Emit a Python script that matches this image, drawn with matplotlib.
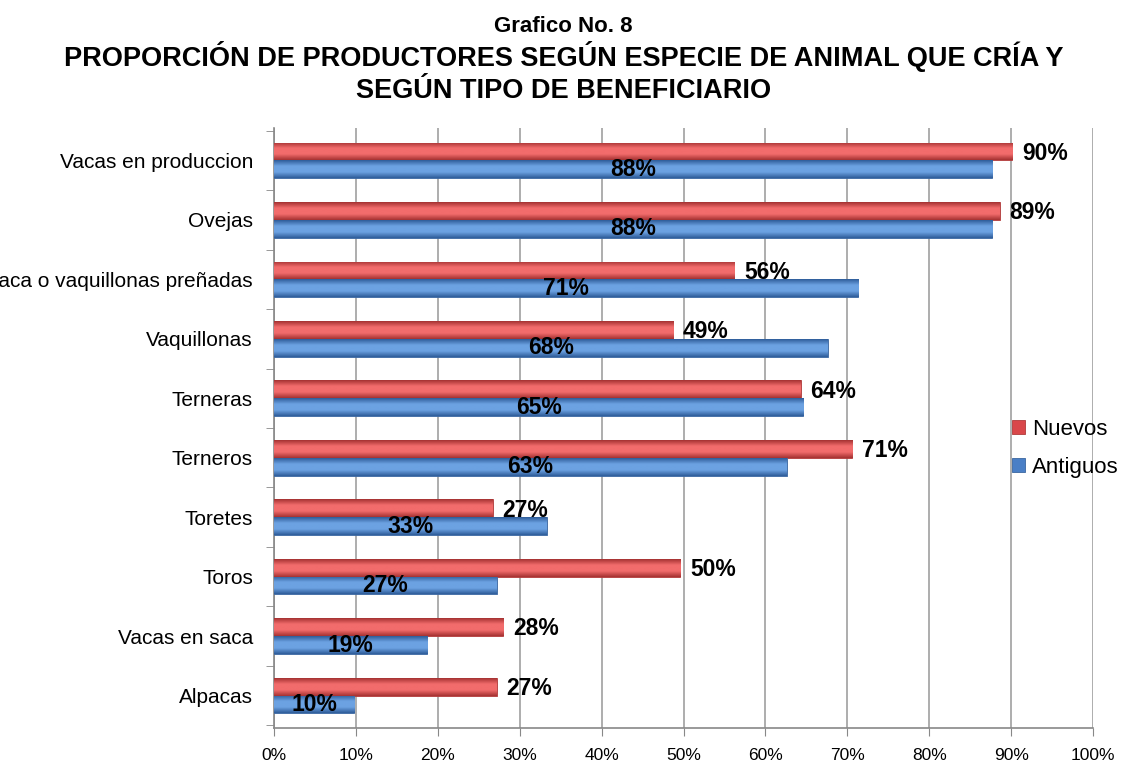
import matplotlib
matplotlib.use("Agg")
import matplotlib.pyplot as plt
from matplotlib.colors import LinearSegmentedColormap
import numpy as np

plt.rcParams['font.family'] = ['Liberation Sans', 'DejaVu Sans']

categorias = ["Vacas en produccion", "Ovejas", "Vaca o vaquillonas preñadas",
              "Vaquillonas", "Terneras", "Terneros", "Toretes", "Toros",
              "Vacas en saca", "Alpacas"]
nuevos = [90.1, 88.6, 56.2, 48.7, 64.3, 70.6, 26.7, 49.6, 28.0, 27.2]
antiguos = [87.7, 87.7, 71.3, 67.6, 64.6, 62.6, 33.3, 27.2, 18.7, 9.8]
etiq_nuevos = ["90%", "89%", "56%", "49%", "64%", "71%", "27%", "50%", "28%", "27%"]
etiq_antiguos = ["88%", "88%", "71%", "68%", "65%", "63%", "33%", "27%", "19%", "10%"]

fig = plt.figure(figsize=(11.27, 7.65), dpi=100)
ax = fig.add_axes([0.243, 0.048, 0.727, 0.785])

y = np.arange(len(categorias))[::-1]
h = 0.3

rojo = "#d9474a"
azul = "#4a7fc6"

b1 = ax.barh(y + h / 2, nuevos, height=h, color=rojo, edgecolor="#b03a3a",
             linewidth=0.6, label="Nuevos", zorder=3)
b2 = ax.barh(y - h / 2, antiguos, height=h, color=azul, edgecolor="#3a66a0",
             linewidth=0.6, label="Antiguos", zorder=3)

# sombreado para imitar el efecto 3D
def sombrear(barras, claro, oscuro):
    grad = np.linspace(0, 1, 64).reshape(-1, 1)
    cm = LinearSegmentedColormap.from_list("g", [oscuro, claro, claro, oscuro])
    for b in barras:
        x0, y0 = b.get_x(), b.get_y()
        w, hh = b.get_width(), b.get_height()
        im = ax.imshow(grad, cmap=cm, aspect="auto",
                       extent=(x0, x0 + w, y0, y0 + hh), origin="lower", zorder=3.5)
        im.set_clip_path(b)

sombrear(b1, "#f26c6c", "#a53232")
sombrear(b2, "#6ca2e2", "#2f5d9a")

for yi, v, t in zip(y, nuevos, etiq_nuevos):
    ax.text(v + 1.2, yi + h / 2 - 0.03, t, va="center", ha="left",
            fontsize=16.5, fontweight="bold", zorder=5)
for yi, v, t in zip(y, antiguos, etiq_antiguos):
    ax.text(v / 2, yi - h / 2, t, va="center", ha="center",
            fontsize=16.5, fontweight="bold", zorder=5)

ax.set_xlim(0, 100)
ax.set_ylim(-0.55, len(categorias) - 0.45)
ax.set_xticks(np.arange(0, 101, 10))
ax.set_xticklabels([f"{v}%" for v in range(0, 101, 10)], fontsize=12.5)
ax.set_yticks(y)
ax.set_yticklabels(categorias, fontsize=15)
ax.set_yticks(np.arange(-0.5, len(categorias), 1), minor=True)
ax.tick_params(axis="y", which="major", length=0, pad=15)
ax.tick_params(axis="y", which="minor", length=6, color="#888888")
ax.tick_params(axis="x", length=6, color="#888888", pad=8)
ax.xaxis.grid(True, color="#a0a0a0", linewidth=1.2, zorder=0)
ax.set_axisbelow(True)
for s in ["top", "right"]:
    ax.spines[s].set_visible(False)
for s in ["left", "bottom"]:
    ax.spines[s].set_color("#888888")
    ax.spines[s].set_linewidth(1.2)

ax.legend(loc="center left", bbox_to_anchor=(0.89, 0.466), frameon=False,
          fontsize=16, handlelength=0.6, handleheight=0.6, handletextpad=0.3,
          labelspacing=0.75, borderaxespad=0)

fig.text(0.5, 0.966, "Grafico No. 8", ha="center", va="center",
         fontsize=16, fontweight="bold")
fig.text(0.5, 0.926, "PROPORCIÓN DE PRODUCTORES SEGÚN ESPECIE DE ANIMAL QUE CRÍA Y",
         ha="center", va="center", fontsize=19.5, fontweight="bold")
fig.text(0.5, 0.881, "SEGÚN TIPO DE BENEFICIARIO", ha="center", va="center",
         fontsize=19.5, fontweight="bold")

fig.savefig("out.png", dpi=100)
